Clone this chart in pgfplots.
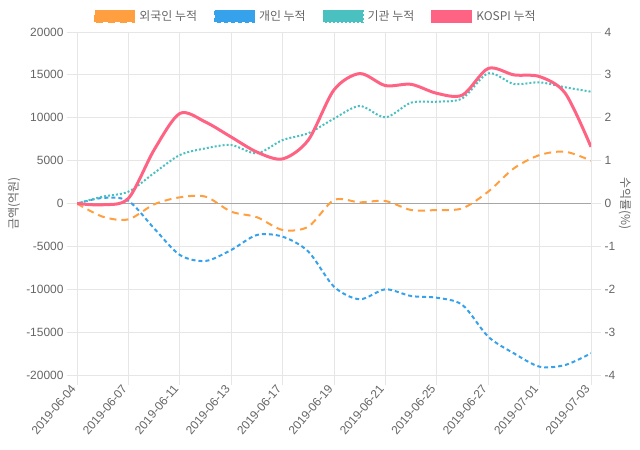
\documentclass[border=0pt]{standalone}
\usepackage{pgfplots}
\pgfplotsset{compat=1.18}
\usepackage{fontspec}
\setmainfont{Liberation Sans}
\newfontfamily\kr{Noto Sans CJK KR}

\definecolor{cOrange}{HTML}{FF9F40}
\definecolor{cBlue}{HTML}{36A2EB}
\definecolor{cTeal}{HTML}{4BC0C0}
\definecolor{cRed}{HTML}{FF6384}
\definecolor{txt}{HTML}{666666}
\definecolor{gridc}{HTML}{E6E6E6}

% index 0..20 = trading days 2019-06-04 .. 2019-07-03
\pgfplotstableread{
i foreign retail inst kospi
0 0 0 0 0
1 -1540 650 800 -0.03
2 -1850 300 1380 0.12
3 -100 -2900 3550 1.25
4 720 -6000 5650 2.10
5 800 -6700 6430 1.90
6 -950 -5420 6820 1.55
7 -1600 -3670 5850 1.20
8 -3090 -3870 7400 1.04
9 -2700 -5600 8200 1.48
10 400 -9700 9900 2.65
11 140 -11170 11370 3.03
12 290 -10010 10050 2.75
13 -760 -10790 11760 2.78
14 -760 -10990 11870 2.57
15 -560 -11840 12270 2.53
16 1380 -15530 15180 3.15
17 4100 -17470 13940 3.00
18 5650 -19030 14130 2.96
19 6040 -18830 13550 2.57
20 4990 -17470 13040 1.32
}\flows

\pgfplotsset{
  base/.style={
    scale only axis, width=514bp, height=343bp,
    at={(77bp,75bp)}, anchor=south west,
    xmin=0, xmax=20,
    font=\fontsize{12}{14}\selectfont,
    tick label style={txt},
    scaled y ticks=false,
    /pgf/number format/assume math mode=true,
    /pgf/number format/set thousands separator={},
    tick align=outside, major tick length=10bp,
    tick style={gridc, line width=0.8bp},
    axis line style={gridc, line width=0.8bp},
  },
  legend image code/.code={\draw[#1, line width=1bp] (0bp,-6bp) rectangle (40bp,6bp);},
  sOrange/.style={cOrange, line width=2bp, dash pattern=on 7bp off 5bp, smooth, tension=0.5},
  sBlue/.style={cBlue, line width=2bp, dash pattern=on 4bp off 3bp, smooth, tension=0.5},
  sTeal/.style={cTeal, line width=2bp, dash pattern=on 2bp off 2bp, smooth, tension=0.5},
  sRed/.style={cRed, line width=3bp, smooth, tension=0.5},
}

\begin{document}
\begin{tikzpicture}
\path[use as bounding box] (0bp,0bp) rectangle (640bp,450bp);
\begin{axis}[base,
  ymin=-20000, ymax=20000, ytick={-20000,-15000,...,20000},
  xtick={0,2,...,20},
  xticklabels={2019-06-04,2019-06-07,2019-06-11,2019-06-13,2019-06-17,2019-06-19,2019-06-21,2019-06-25,2019-06-27,2019-07-01,2019-07-03},
  xticklabel style={rotate=50, anchor=east, yshift=2bp},
  tick pos=left,
  grid=major, grid style={gridc, line width=0.8bp},
  extra y ticks={0}, extra y tick labels={},
  extra y tick style={grid style={black!35, line width=0.8bp}, major tick length=0pt},
  ylabel={\kr 금액(억원)},
  every axis y label/.style={at={(axis description cs:-0.1226,0.5)}, rotate=90, anchor=center, text=txt},
  legend style={at={(0.5,1)}, anchor=south, xshift=-18bp, yshift=6bp, draw=none,
    fill=none, text=txt, font=\kr\fontsize{12}{14}\selectfont,
    /tikz/every odd column/.append style={column sep=2bp},
    /tikz/every even column/.append style={column sep=15bp}},
  legend columns=4,
]
\addlegendimage{sOrange, fill=cOrange}
\addlegendentry{외국인 누적}
\addlegendimage{sBlue, fill=cBlue}
\addlegendentry{개인 누적}
\addlegendimage{sTeal, fill=cTeal}
\addlegendentry{기관 누적}
\addlegendimage{sRed, fill=cRed}
\addlegendentry{KOSPI 누적}
\addplot[sOrange, forget plot] table[x=i, y=foreign] {\flows};
\addplot[sBlue, forget plot] table[x=i, y=retail] {\flows};
\addplot[sTeal, forget plot] table[x=i, y=inst] {\flows};
\end{axis}
\begin{axis}[base,
  ymin=-4, ymax=4, ytick={-4,-3,...,4},
  hide x axis, axis y line*=right,
  ylabel={\kr 수익률(\%)},
  every axis y label/.style={at={(axis description cs:1.066,0.5)}, rotate=-90, anchor=center, text=txt},
]
\addplot[sRed] table[x=i, y=kospi] {\flows};
\end{axis}
\end{tikzpicture}
\end{document}
